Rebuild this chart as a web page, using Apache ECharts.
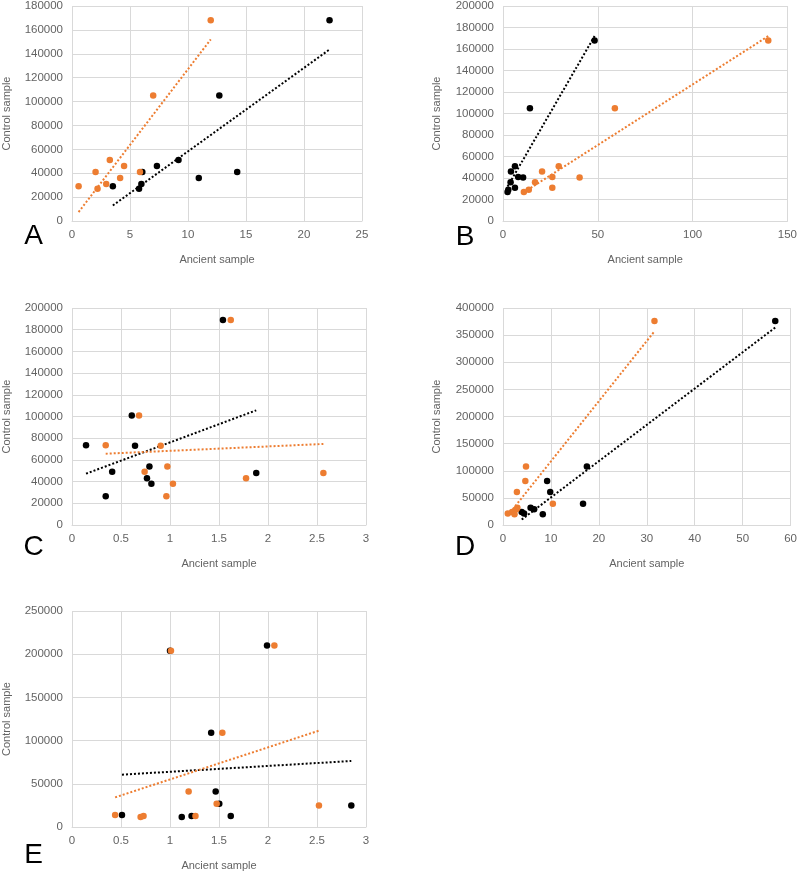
<!DOCTYPE html>
<html>
<head>
<meta charset="utf-8">
<script src="https://cdn.jsdelivr.net/npm/echarts@6/dist/echarts.min.js"></script>
<style>
html,body{margin:0;padding:0;background:#fff;}
#chart{width:800px;height:873px;}
</style>
</head>
<body>
<div id="chart"></div>
<script>
// ---- Data ----
// Panel A
const A_control = [29000, 41000, 27000, 31000, 51000, 36000, 46000, 41000, 105000, 168000];
const A_black   = [3.52, 6.06, 5.78, 5.98, 9.18, 10.93, 7.32, 14.24, 12.7, 22.2];
const A_orange  = [0.57, 2.03, 2.2, 2.95, 3.26, 4.15, 4.49, 5.86, 7.0, 11.96];
const A_blackTrendX = [3.52, 22.2],  A_blackTrendY = [13000, 143600];
const A_orangeTrendX = [0.57, 11.96], A_orangeTrendY = [7500, 152000];
// Panel B
const B_control = [27000, 29000, 36000, 46000, 51000, 31000, 41000, 40500, 105000, 168000];
const B_black   = [2.4, 2.8, 4.0, 4.2, 6.3, 6.3, 8.0, 10.6, 14.2, 48.3];
const B_orange  = [11.0, 13.6, 16.9, 20.6, 29.4, 26.0, 26.0, 40.4, 59.0, 139.9];
const B_blackTrendX = [2.4, 48.3],   B_blackTrendY = [32000, 172000];
const B_orangeTrendX = [11.0, 139.9], B_orangeTrendY = [26700, 172000];
// Panel C
const C_control = [73500, 26500, 49000, 101000, 73000, 43000, 54000, 38000, 189000, 48000];
const C_black   = [0.143, 0.344, 0.41, 0.61, 0.643, 0.765, 0.79, 0.81, 1.54, 1.88];
const C_orange  = [0.344, 0.963, 0.741, 0.684, 0.905, 1.776, 0.973, 1.03, 1.62, 2.565];
const C_blackTrendX = [0.143, 1.88],  C_blackTrendY = [47300, 105700];
const C_orangeTrendX = [0.344, 2.565], C_orangeTrendY = [65700, 74700];
// Panel D
const D_control = [24000, 21000, 32000, 29000, 20000, 81000, 61000, 39000, 108000, 376000];
const D_black   = [3.9, 4.4, 5.76, 6.5, 8.3, 9.2, 9.85, 16.7, 17.5, 56.8];
const D_orange  = [1.9, 1.0, 3.0, 2.8, 2.4, 4.66, 2.9, 10.4, 4.8, 31.6];
const D_blackTrendX = [3.9, 56.8],  D_blackTrendY = [10000, 364000];
const D_orangeTrendX = [1.0, 31.6], D_orangeTrendY = [17500, 357000];
// Panel E
const E_control = [14000, 204000, 11500, 12700, 109000, 41000, 27000, 12700, 210000, 25000];
const E_black   = [0.51, 1.0, 1.12, 1.22, 1.42, 1.466, 1.503, 1.62, 1.99, 2.85];
const E_orange  = [0.44, 1.01, 0.70, 0.73, 1.534, 1.19, 1.476, 1.26, 2.065, 2.52];
const E_blackTrendX = [0.51, 2.85],  E_blackTrendY = [60600, 76400];
const E_orangeTrendX = [0.44, 2.52], E_orangeTrendY = [34300, 111500];

// Axis tick settings
const panelLetters = ['A', 'B', 'C', 'D', 'E'];
const xMax = [25, 150, 3, 60, 3];
const xStep = [5, 50, 0.5, 10, 0.5];
const yMax = [180000, 200000, 200000, 400000, 250000];
const yStep = [20000, 20000, 20000, 50000, 50000];
const xTitle = 'Ancient sample';
const yTitle = 'Control sample';

// ---- Layout / styles ----
const FONT = '"Liberation Sans", Arial, sans-serif';
const BLACK = '#000000';
const ORANGE = '#ED7D31';
const GRID_COLOR = '#d9d9d9';
const LABEL_COLOR = '#636363';

const grids = [
  {left: 71,  top: 5,   width: 291, height: 216},
  {left: 503, top: 5,   width: 287, height: 216},
  {left: 72,  top: 308, width: 294, height: 217},
  {left: 503, top: 308, width: 291, height: 217},
  {left: 72,  top: 611, width: 294, height: 216}
];
const letterPos = [[33.5, 236.5], [465, 237], [33.5, 547], [465, 547], [33.5, 855.5]];

const panels = [
  {control: A_control, black: A_black, orange: A_orange, bTx: A_blackTrendX, bTy: A_blackTrendY, oTx: A_orangeTrendX, oTy: A_orangeTrendY},
  {control: B_control, black: B_black, orange: B_orange, bTx: B_blackTrendX, bTy: B_blackTrendY, oTx: B_orangeTrendX, oTy: B_orangeTrendY},
  {control: C_control, black: C_black, orange: C_orange, bTx: C_blackTrendX, bTy: C_blackTrendY, oTx: C_orangeTrendX, oTy: C_orangeTrendY},
  {control: D_control, black: D_black, orange: D_orange, bTx: D_blackTrendX, bTy: D_blackTrendY, oTx: D_orangeTrendX, oTy: D_orangeTrendY},
  {control: E_control, black: E_black, orange: E_orange, bTx: E_blackTrendX, bTy: E_blackTrendY, oTx: E_orangeTrendX, oTy: E_orangeTrendY}
];

const zip = (xs, ys) => xs.map((x, i) => [x, ys[i]]);

const xAxes = [], yAxes = [], series = [], graphics = [];
panels.forEach((p, i) => {
  xAxes.push({
    type: 'value', gridIndex: i, min: 0, max: xMax[i], interval: xStep[i],
    name: xTitle, nameLocation: 'middle', nameGap: 33,
    nameTextStyle: {color: LABEL_COLOR, fontSize: 11, fontFamily: FONT},
    axisLine: {show: true, lineStyle: {color: GRID_COLOR, width: 1}},
    axisTick: {show: false},
    axisLabel: {color: LABEL_COLOR, fontSize: 11.5, fontFamily: FONT, margin: 8, formatter: v => String(v)},
    splitLine: {show: true, lineStyle: {color: GRID_COLOR, width: 1}}
  });
  yAxes.push({
    type: 'value', gridIndex: i, min: 0, max: yMax[i], interval: yStep[i],
    name: yTitle, nameLocation: 'middle', nameGap: (i % 2 === 0) ? 60 : 61,
    nameTextStyle: {color: LABEL_COLOR, fontSize: 11, fontFamily: FONT},
    axisLine: {show: false},
    axisTick: {show: false},
    axisLabel: {color: LABEL_COLOR, fontSize: 11.5, fontFamily: FONT, margin: 9, formatter: v => String(v)},
    splitLine: {show: true, lineStyle: {color: GRID_COLOR, width: 1}}
  });
  series.push({
    type: 'line', xAxisIndex: i, yAxisIndex: i, data: zip(p.bTx, p.bTy),
    showSymbol: false, symbol: 'none', silent: true, z: 3,
    lineStyle: {color: BLACK, width: 2, type: 'dotted', opacity: 1}
  });
  series.push({
    type: 'line', xAxisIndex: i, yAxisIndex: i, data: zip(p.oTx, p.oTy),
    showSymbol: false, symbol: 'none', silent: true, z: 3,
    lineStyle: {color: ORANGE, width: 2, type: 'dotted', opacity: 1}
  });
  series.push({
    type: 'scatter', xAxisIndex: i, yAxisIndex: i, data: zip(p.black, p.control),
    symbolSize: 6.5, itemStyle: {color: BLACK, opacity: 1}, z: 4
  });
  series.push({
    type: 'scatter', xAxisIndex: i, yAxisIndex: i, data: zip(p.orange, p.control),
    symbolSize: 6.5, itemStyle: {color: ORANGE, opacity: 1}, z: 5
  });
  graphics.push({
    type: 'text', x: letterPos[i][0], y: letterPos[i][1],
    style: {text: panelLetters[i], fill: '#000', font: '28px ' + FONT, textAlign: 'center', textVerticalAlign: 'middle'}
  });
});

const chart = echarts.init(document.getElementById('chart'), null, {renderer: 'canvas'});
chart.setOption({
  animation: false,
  backgroundColor: '#ffffff',
  grid: grids,
  xAxis: xAxes,
  yAxis: yAxes,
  series: series,
  graphic: graphics
});
</script>
</body>
</html>
